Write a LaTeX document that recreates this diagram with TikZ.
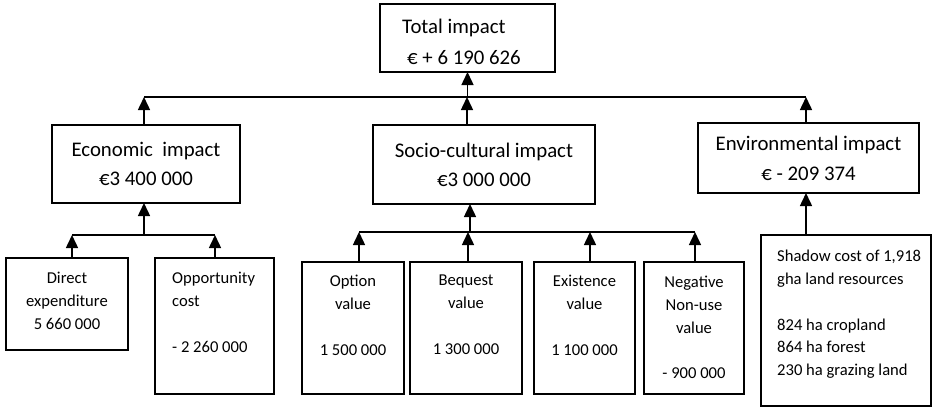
\documentclass[tikz,border=0pt]{standalone}
\usepackage{fontspec}
\setmainfont{Carlito}
\usetikzlibrary{arrows.meta}
\begin{document}
\begin{tikzpicture}[x=1pt,y=-1pt,
  box/.style={draw, line width=1.5pt, inner sep=0pt, outer sep=0pt},
  big/.style={font=\fontsize{20.8}{29}\selectfont},
  small/.style={font=\fontsize{16.6}{22.8}\selectfont},
  lbl/.style={inner sep=0pt, anchor=north},
  arr/.style={line width=1.5pt, -{Triangle[width=12pt,length=13pt]}},
  bus/.style={line width=1.5pt}]
\useasboundingbox (0,0) rectangle (932,408);

% boxes
\node[box, minimum width=175pt, minimum height=68pt] (total) at (467.5,38) {};
\node[box, big, align=center, minimum width=188pt, minimum height=78pt] (econ) at (146,164) {Economic\ \ impact\\€3 400 000};
\node[box, big, align=center, minimum width=222pt, minimum height=79pt] (socio) at (484,164.5) {Socio-cultural impact\\€3 000 000};
\node[box, big, align=center, minimum width=221pt, minimum height=70pt] (env) at (808.5,158) {Environmental impact\\[1pt]€ - 209 374};

\node[box, minimum width=122pt, minimum height=92pt] (direct) at (67,304) {};
\node[box, minimum width=119pt, minimum height=136pt] (opp) at (214.5,326) {};
\node[box, minimum width=102pt, minimum height=132pt] (option) at (353,328) {};
\node[box, minimum width=112pt, minimum height=132pt] (bequest) at (466,328) {};
\node[box, minimum width=101pt, minimum height=132pt] (exist) at (584.5,328) {};
\node[box, minimum width=100pt, minimum height=132pt] (neg) at (694,328) {};
\node[box, minimum width=170pt, minimum height=171pt] (shadow) at (846,320.5) {};

% texts
\node[lbl, anchor=north west, align=left, font=\fontsize{20.8}{31}\selectfont] (totaltxt) at (402,19) {Total impact\\\hspace*{5pt}€ + 6 190 626};
\node[lbl, small, align=center] (directtxt) at (67,272) {Direct\\expenditure\\5 660 000};
\node[lbl, small, anchor=north west, align=left] (opptxt) at (172,272) {Opportunity\\cost\\[22.8pt]- 2 260 000};
\node[lbl, small, align=center] (optiontxt) at (353,275) {Option\\value\\[22.8pt]1 500 000};
\node[lbl, small, align=center] (bequesttxt) at (466,275) {Bequest\\value\\[22.8pt]1 300 000};
\node[lbl, small, align=center] (existtxt) at (584.5,275) {Existence\\value\\[22.8pt]1 100 000};
\node[lbl, small, align=center] (negtxt) at (694,276) {Negative\\Non-use\\value\\[22.8pt]- 900 000};
\node[lbl, small, anchor=north west, align=left] (shadowtxt) at (777,250) {Shadow cost of 1,918\\gha land resources\\[22.8pt]824 ha cropland\\864 ha forest\\230 ha grazing land};

% top bus
\coordinate (b1) at (144,97);
\coordinate (b2) at (806,97);
\draw[bus] (b1) -- (b2);
\draw[arr] (b1 -| total.south) -- (total.south);
\draw[arr] ([xshift=-2pt]econ.north) -- (b1);
\path ([xshift=-17pt]socio.north) coordinate (sn);
\draw[arr] (sn) -- (sn |- b1);
\draw[arr] ([xshift=-2.5pt]env.north) -- (b2);

% economic bus
\coordinate (c1) at (72,235);
\coordinate (c2) at (215,235);
\draw[bus] (c1) -- (c2);
\path ([xshift=-2pt]econ.south) coordinate (es);
\draw[arr] (es |- c1) -- (es);
\draw[arr] ([xshift=5pt]direct.north) -- (c1);
\draw[arr] ([xshift=0.5pt]opp.north) -- (c2);

% socio bus
\coordinate (s1) at (359,232);
\coordinate (s2) at (695,232);
\draw[bus] (s1) -- (s2);
\path ([xshift=-14pt]socio.south) coordinate (ss);
\draw[arr] (ss |- s1) -- (ss);
\draw[arr] ([xshift=6pt]option.north) -- (s1);
\path ([xshift=2pt]bequest.north) coordinate (bq);
\draw[arr] (bq) -- (bq |- s1);
\path ([xshift=5.5pt]exist.north) coordinate (ex);
\draw[arr] (ex) -- (ex |- s1);
\draw[arr] ([xshift=1pt]neg.north) -- (s2);

% environmental
\path ([xshift=-40pt]shadow.north) coordinate (sh);
\draw[arr] (sh) -- (sh |- env.south);
\end{tikzpicture}
\end{document}
